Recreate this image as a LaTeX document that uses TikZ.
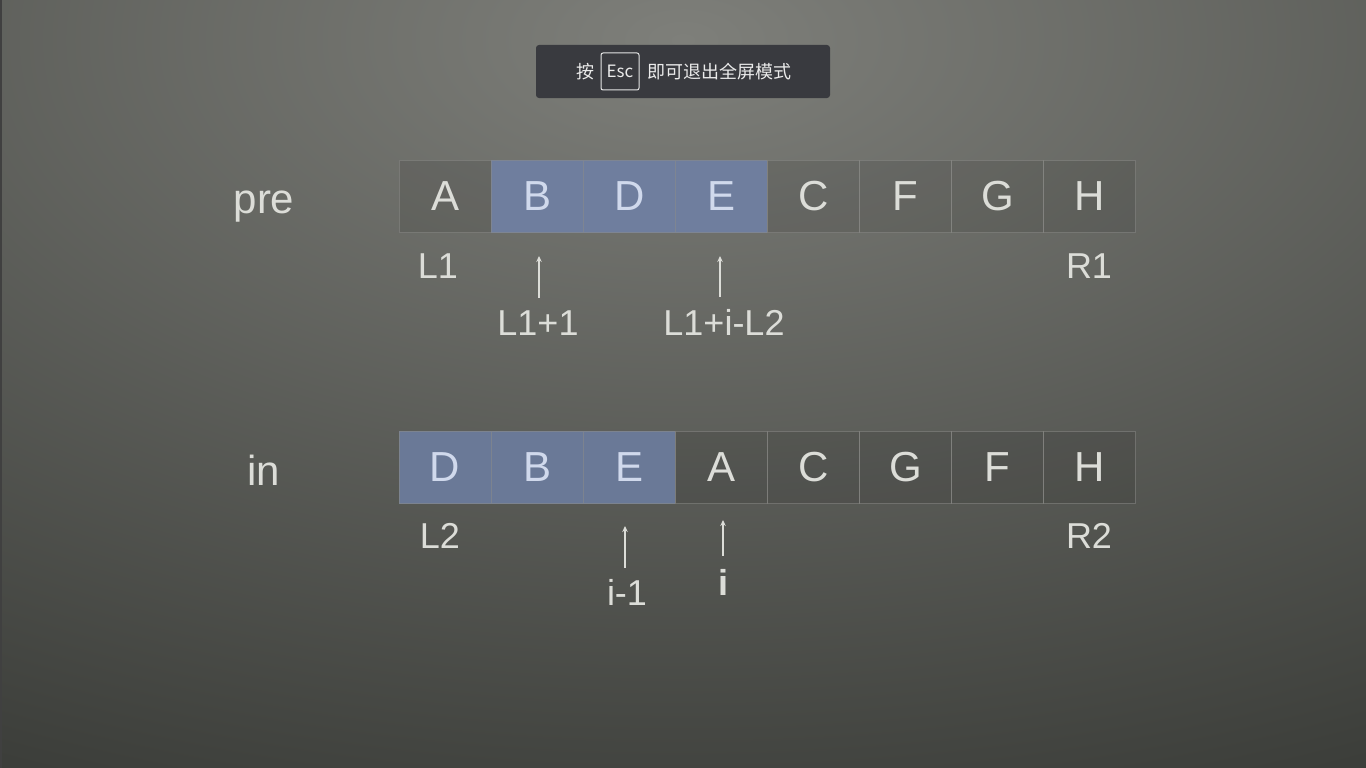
\documentclass[tikz,border=0pt]{standalone}
\usepackage{fontspec}
\setmainfont{Liberation Sans}
\newfontfamily\cjk{Noto Sans CJK SC}
\usetikzlibrary{arrows.meta}
\definecolor{bgin}{RGB}{126,127,122}
\definecolor{bgout}{RGB}{58,60,56}
\definecolor{toastbg}{RGB}{57,58,63}
\definecolor{hlblue}{RGB}{111,126,158}
\definecolor{hlblue2}{RGB}{106,121,151}
\definecolor{txt}{RGB}{220,221,216}
\definecolor{txtblue}{RGB}{208,217,236}
\definecolor{cellline}{RGB}{140,140,137}
\begin{document}
\begin{tikzpicture}[x=1pt,y=-1pt,
  cell/.style={draw=cellline, draw opacity=0.55, line width=1pt, fill=black, fill opacity=0.09, text opacity=1,
     minimum width=92.1pt, minimum height=72.5pt, inner sep=0pt, text=txt,
     font=\fontsize{42}{48}\selectfont},
  hl/.style={cell, fill=hlblue, fill opacity=1, text=txtblue},
  hlb/.style={cell, fill=hlblue2, fill opacity=1, text=txtblue},
  lbl/.style={text=txt, inner sep=0pt, anchor=base, font=\fontsize{36}{40}\selectfont},
  big/.style={text=txt, inner sep=0pt, anchor=base, font=\fontsize{42}{48}\selectfont},
  arr/.style={draw=txt, line width=1.8pt, -{Stealth[length=6pt,width=5.5pt]}},
]
\useasboundingbox (0,0) rectangle (1366,768);
% background
\begin{scope}
  \clip (0,0) rectangle (1366,768);
  \shade[inner color=bgin, outer color=bgout] (683,40) ellipse (1560 and 830);
\end{scope}
\fill[black!75] (0,0) rectangle (1.5,768);

% toast
\node[fill=toastbg, rounded corners=3pt, minimum width=294pt, minimum height=53pt, inner sep=0pt] (toast) at (683,71.5) {};
\node[text=white!92!black, inner sep=0pt, font=\cjk\fontsize{18}{20}\selectfont] (an) at (585,72) {按};
\node[draw=white!90!black, line width=1pt, rounded corners=2pt, minimum width=38pt, minimum height=37pt, inner sep=0pt,
      text=white!92!black, font=\cjk\fontsize{17}{20}\selectfont] (esc) at (620,71.5) {Esc};
\node[text=white!92!black, inner sep=0pt, anchor=west, font=\cjk\fontsize{18}{20}\selectfont] (msg) at (647,72) {即可退出全屏模式};

% row labels
\node[big] (pre) at (264,213) {pre};
\node[big] (in) at (264,485) {in};

% pre row
\node[cell] (p1) at (445.05,196.5) {A};
\node[hl]   (p2) at (537.15,196.5) {B};
\node[hl]   (p3) at (629.25,196.5) {D};
\node[hl]   (p4) at (721.35,196.5) {E};
\node[cell] (p5) at (813.45,196.5) {C};
\node[cell] (p6) at (905.55,196.5) {F};
\node[cell] (p7) at (997.65,196.5) {G};
\node[cell] (p8) at (1089.75,196.5) {H};

% in row
\node[hlb]  (q1) at (445.05,467.5) {D};
\node[hlb]  (q2) at (537.15,467.5) {B};
\node[hlb]  (q3) at (629.25,467.5) {E};
\node[cell] (q4) at (721.35,467.5) {A};
\node[cell] (q5) at (813.45,467.5) {C};
\node[cell] (q6) at (905.55,467.5) {G};
\node[cell] (q7) at (997.65,467.5) {F};
\node[cell] (q8) at (1089.75,467.5) {H};

% labels under pre
\node[lbl] (L1) at (438,278) {L1};
\node[lbl] (R1) at (1089,278) {R1};
\node[lbl] (L1p1) at (538,335) {L1+1};
\node[lbl] (L1iL2) at (724,335) {L1+i-L2};

% labels under in
\node[lbl] (L2) at (440,548) {L2};
\node[lbl] (R2) at (1089,548) {R2};
\node[lbl] (im1) at (627,605) {i-1};
\node[lbl, font=\bfseries\fontsize{36}{40}\selectfont] (ii) at (723,595) {i};

% arrow tips
\coordinate (t1) at (539,256);
\coordinate (t2) at (720,256);
\coordinate (t3) at (625,526);
\coordinate (t4) at (723,520);

\draw[arr] (L1p1.north -| t1) ++(0,-12) -- (t1);
\draw[arr] (L1iL2.north -| t2) ++(0,-12) -- (t2);
\draw[arr] (im1.north -| t3) ++(0,-11) -- (t3);
\draw[arr, line width=2.8pt] (ii.north -| t4) ++(0,-13) -- (t4);
\end{tikzpicture}
\end{document}
